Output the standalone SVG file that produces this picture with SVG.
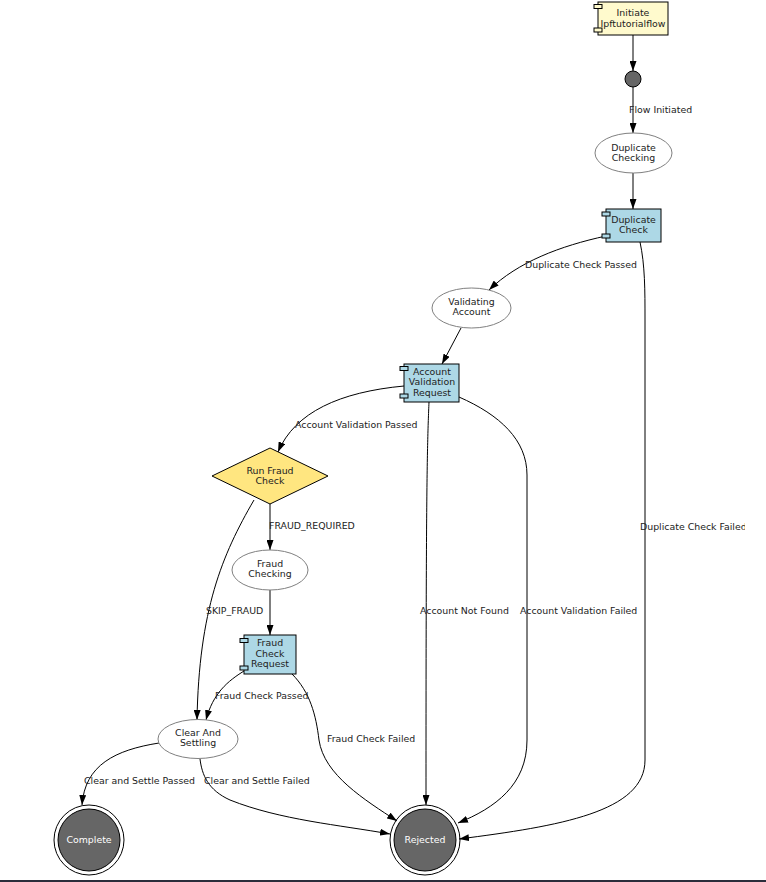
<svg xmlns="http://www.w3.org/2000/svg" width="766" height="882" viewBox="0 0 766 882">
<defs>
<marker id="arr" viewBox="0 0 10 7" refX="10" refY="3.5" markerWidth="10" markerHeight="7" orient="auto" markerUnits="userSpaceOnUse">
<path d="M0,0 L10,3.5 L0,7 z" fill="#000"/>
</marker>
<clipPath id="vp"><rect x="0" y="0" width="745" height="882"/></clipPath>
<style>
text{font-family:"DejaVu Sans",sans-serif;font-size:9.4px;fill:#222}
.n text{text-anchor:middle}
.edges path{fill:none;stroke:#000;stroke-width:1;marker-end:url(#arr)}
.comp{stroke:#000;stroke-width:1}
.st{fill:#fff;stroke:#808080;stroke-width:1}
.fin{fill:#666;stroke:#000;stroke-width:1}
.ring{fill:none;stroke:#000;stroke-width:1}
.w{fill:#fff}
</style>
</defs>
<rect width="766" height="882" fill="#fff"/>
<rect x="0" y="880" width="766" height="2" fill="#2b2d3b"/>

<g class="edges" id="connectors">
<path d="M633,35 L633,71"/>
<path d="M633,87 L633,133"/>
<path d="M633,173 L633,209"/>
<path d="M606,236 C560,246 518,262 489,290"/>
<path d="M461,328 L442,364"/>
<path d="M404,386 C340,392 295,412 278,452"/>
<path d="M270,504 L270,550"/>
<path d="M270,590 L270,635"/>
<path d="M254,500 C222,555 199,610 197,720"/>
<path d="M244,671 C228,681 213,693 206,720"/>
<path d="M292,674 C310,692 316,715 319,740 C324,775 365,800 397,821"/>
<path d="M429,402 C427,450 426,500 426,805"/>
<path d="M459,397 C500,415 527,440 527,475 L527,740 C527,785 495,808 458,823"/>
<path d="M640,242 C645,265 645,290 645,320 L645,760 C645,812 560,826 459,839"/>
<path d="M159,743 C115,750 85,765 82,805"/>
<path d="M200,759 C202,775 208,790 230,800 C280,820 340,825 390,834"/>
<text x="629" y="113">Flow Initiated</text>
<text x="525" y="268">Duplicate Check Passed</text>
<text x="295" y="428">Account Validation Passed</text>
<text x="269" y="529">FRAUD_REQUIRED</text>
<text x="206" y="614">SKIP_FRAUD</text>
<text x="420" y="614">Account Not Found</text>
<text x="520" y="614">Account Validation Failed</text>
<text x="640" y="530" clip-path="url(#vp)">Duplicate Check Failed</text>
<text x="215" y="699">Fraud Check Passed</text>
<text x="327" y="742">Fraud Check Failed</text>
<text x="84" y="784">Clear and Settle Passed</text>
<text x="204" y="784">Clear and Settle Failed</text>
</g>

<g class="n" id="initiate">
<rect class="comp" x="598" y="2" width="70" height="33" fill="#fffacd"/>
<rect class="comp" x="594" y="4.5" width="8" height="4" fill="#fffacd"/>
<rect class="comp" x="594" y="28" width="8" height="4" fill="#fffacd"/>
<text x="633" y="16">Initiate</text>
<text x="633" y="27">Ipftutorialflow</text>
</g>

<g class="n" id="start">
<circle cx="633" cy="79" r="8" fill="#666" stroke="#000"/>
</g>

<g class="n" id="duplicateChecking">
<ellipse class="st" cx="633.5" cy="153" rx="38.5" ry="20"/>
<text x="633.5" y="151">Duplicate</text>
<text x="633.5" y="161">Checking</text>
</g>

<g class="n" id="duplicateCheck">
<rect class="comp" x="606" y="209" width="55" height="33" fill="#add8e6"/>
<rect class="comp" x="602" y="212" width="8" height="4" fill="#add8e6"/>
<rect class="comp" x="602" y="234" width="8" height="4" fill="#add8e6"/>
<text x="633.5" y="223">Duplicate</text>
<text x="633.5" y="233">Check</text>
</g>

<g class="n" id="validatingAccount">
<ellipse class="st" cx="471.5" cy="308" rx="39.5" ry="20"/>
<text x="471.5" y="305">Validating</text>
<text x="471.5" y="315">Account</text>
</g>

<g class="n" id="accountValidationRequest">
<rect class="comp" x="404" y="364" width="55" height="38" fill="#add8e6"/>
<rect class="comp" x="400" y="366.5" width="8" height="4" fill="#add8e6"/>
<rect class="comp" x="400" y="394" width="8" height="4" fill="#add8e6"/>
<text x="432" y="375">Account</text>
<text x="432" y="385">Validation</text>
<text x="432" y="396">Request</text>
</g>

<g class="n" id="runFraudCheck">
<polygon points="270,448 328,476 270,504 212,476" fill="#ffe680" stroke="#000"/>
<text x="270" y="474">Run Fraud</text>
<text x="270" y="484">Check</text>
</g>

<g class="n" id="fraudChecking">
<ellipse class="st" cx="270" cy="570" rx="38" ry="20"/>
<text x="270" y="567">Fraud</text>
<text x="270" y="577">Checking</text>
</g>

<g class="n" id="fraudCheckRequest">
<rect class="comp" x="244" y="635" width="52" height="39" fill="#add8e6"/>
<rect class="comp" x="240" y="638.5" width="8" height="4" fill="#add8e6"/>
<rect class="comp" x="240" y="666" width="8" height="4" fill="#add8e6"/>
<text x="270" y="646">Fraud</text>
<text x="270" y="657">Check</text>
<text x="270" y="667">Request</text>
</g>

<g class="n" id="clearAndSettling">
<ellipse class="st" cx="198" cy="739" rx="40" ry="19.5"/>
<text x="198" y="736">Clear And</text>
<text x="198" y="746">Settling</text>
</g>

<g class="n" id="complete">
<circle class="ring" cx="89" cy="840" r="35"/>
<circle class="fin" cx="89" cy="840" r="31"/>
<text class="w" x="89" y="843">Complete</text>
</g>

<g class="n" id="rejected">
<circle class="ring" cx="425" cy="840" r="35"/>
<circle class="fin" cx="425" cy="840" r="31"/>
<text class="w" x="425" y="843">Rejected</text>
</g>
</svg>
